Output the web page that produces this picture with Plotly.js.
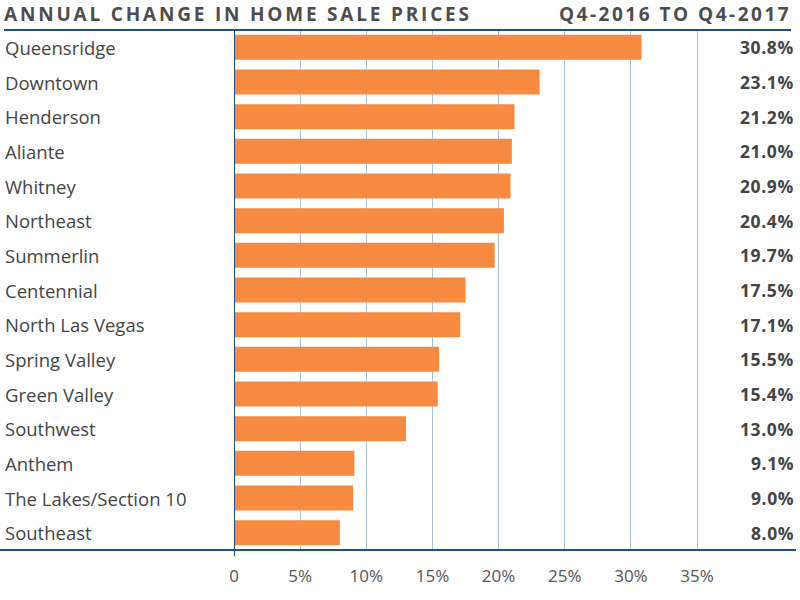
<!DOCTYPE html>
<html><head><meta charset="utf-8">
<script src="https://cdn.plot.ly/plotly-3.0.1.min.js"></script>
<style>
body{margin:0;background:#fff}
.annotation-text[data-unformatted*="ANNUAL"]{letter-spacing:2.8px}
.annotation-text[data-unformatted*="Q4-2016"]{letter-spacing:2.5px}
.annotation-text[data-unformatted*="%"]{letter-spacing:0.6px}
</style>
</head><body>
<div id="chart" style="width:800px;height:600px"></div>
<script>
const categories = ["Queensridge","Downtown","Henderson","Aliante","Whitney","Northeast","Summerlin","Centennial","North Las Vegas","Spring Valley","Green Valley","Southwest","Anthem","The Lakes/Section 10","Southeast"];
const changes = [30.8,23.1,21.2,21.0,20.9,20.4,19.7,17.5,17.1,15.5,15.4,13.0,9.1,9.0,8.0];
const tickValues = [0,5,10,15,20,25,30,35];
const tickLabels = ["0","5%","10%","15%","20%","25%","30%","35%"];
const titleLeft = "ANNUAL CHANGE IN HOME SALE PRICES";
const titleRight = "Q4-2016 TO Q4-2017";

const L = 234, R = 5, W = 800 - L - R;
const px = p => (p - L) / W;
const font = "'Open Sans', sans-serif";
const navy = "#1c4f8f";

const annotations = [];
categories.forEach((c, i) => {
  annotations.push({xref:'paper', yref:'y', x:px(3), y:c, text:c, showarrow:false, xanchor:'left', yanchor:'middle',
    font:{family:font, size:18.5, color:'#444'}});
  annotations.push({xref:'paper', yref:'y', x:px(796), y:c, text:'<b>'+changes[i].toFixed(1)+'%</b>', showarrow:false, xanchor:'right', yanchor:'middle',
    font:{family:font, size:17.5, color:'#444'}});
});
annotations.push({xref:'paper', yref:'paper', x:px(2), y:1, yshift:16, text:'<b>'+titleLeft+'</b>', showarrow:false, xanchor:'left', yanchor:'middle',
  font:{family:font, size:19, color:'#4d4d4d'}});
annotations.push({xref:'paper', yref:'paper', x:px(793), y:1, yshift:16, text:'<b>'+titleRight+'</b>', showarrow:false, xanchor:'right', yanchor:'middle',
  font:{family:font, size:19, color:'#4d4d4d'}});

const shapes = [
  {type:'line', xref:'paper', yref:'paper', x0:px(4), x1:px(791), y0:1, y1:1, line:{color:navy, width:2}},
  {type:'line', xref:'paper', yref:'paper', x0:px(0), x1:px(796), y0:0, y1:0, line:{color:navy, width:2}},
  {type:'line', xref:'x', yref:'paper', x0:0, x1:0, y0:1, y1:-0.012, line:{color:navy, width:2}}
];

Plotly.newPlot('chart', [{
  type:'bar', orientation:'h', y:categories, x:changes,
  marker:{color:'#f68a40'}, hoverinfo:'none'
}], {
  width:800, height:600,
  margin:{l:L, r:R, t:30, b:50},
  paper_bgcolor:'#fff', plot_bgcolor:'#fff',
  bargap:0.28,
  showlegend:false,
  xaxis:{range:[0,42.4], tickvals:tickValues, ticktext:tickLabels, showgrid:true, gridcolor:'#a9c2dc', gridwidth:1,
    zeroline:false, showline:false, ticks:'', ticklabelstandoff:14, tickfont:{family:font, size:17, color:'#555'}, fixedrange:true},
  yaxis:{autorange:'reversed', showticklabels:false, showgrid:false, zeroline:false, showline:false, ticks:'', fixedrange:true},
  annotations:annotations, shapes:shapes
}, {displayModeBar:false, staticPlot:true});
</script>
</body></html>
